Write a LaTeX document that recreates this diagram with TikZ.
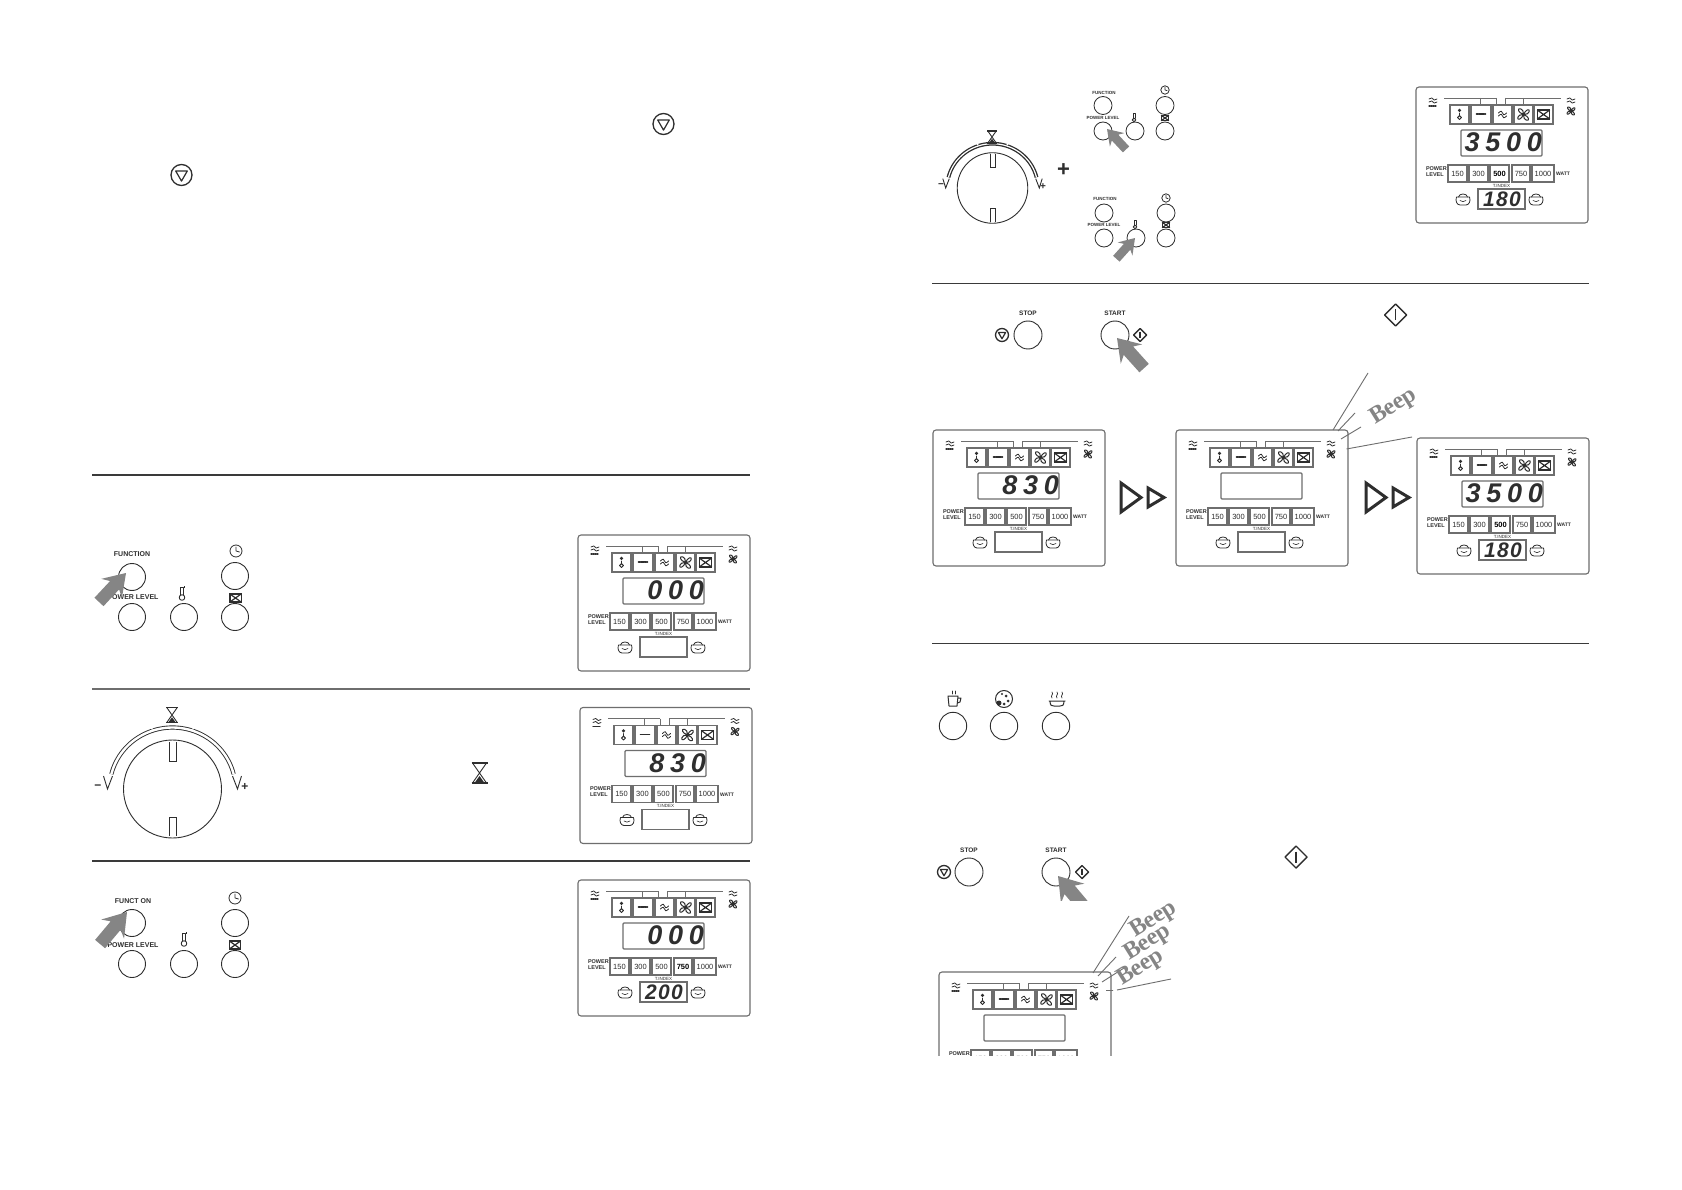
\documentclass[tikz,border=0pt]{standalone}
\usepackage{fontspec}
\setmainfont{Liberation Sans}
\newfontfamily\segmain[LetterSpace=21]{Liberation Sans Bold Italic}
\newfontfamily\seglow[LetterSpace=6]{Liberation Sans Bold Italic}
\newfontfamily\beepfont{Liberation Serif Bold}
\definecolor{ink}{HTML}{2E2E2E}
\definecolor{frame}{HTML}{6E6E6E}
\definecolor{hand}{HTML}{858585}
\definecolor{rule}{HTML}{3A3A3A}
\tikzset{
  btn/.style={draw=ink,line width=.9pt},
  ic/.style={draw=ink,line width=.8pt,line cap=round,line join=round},
  rulel/.style={draw=rule,line width=1.5pt},
  box/.style={draw=frame,line width=1.1pt,fill=white},
  thin/.style={draw=frame,line width=.9pt},
  lab/.style={inner sep=0pt,text=ink,font=\fontsize{7}{7}\selectfont\bfseries},
  beeplabel/.style={inner sep=0pt,text=hand,font=\fontsize{24}{24}\beepfont},
  beepline/.style={draw=frame,line width=.9pt},
}
% icons
\newcommand\stopicon[3]{\begin{scope}[shift={(#1,#2)},scale=#3]
  \draw[draw=ink,line width=1.3pt] (0,0) circle (1);
  \draw[draw=ink,line width=1.2pt,line join=round] (-.55,-.38) -- (.55,-.38) -- (0,.58) -- cycle;
\end{scope}}
\newcommand\starticon[3]{\begin{scope}[shift={(#1,#2)},scale=#3]
  \draw[draw=ink,line width=1.4pt,line join=round] (0,-1) -- (1,0) -- (0,1) -- (-1,0) -- cycle;
  \draw[draw=ink,line width=1.2pt] (0,-.5) -- (0,.5);
\end{scope}}
\newcommand\hourglass[3]{\begin{scope}[shift={(#1,#2)},scale=#3]
  \draw[draw=ink,line width=1.1pt] (-8,-10) -- (8,-10) (-8,10) -- (8,10);
  \draw[draw=ink,line width=.9pt] (-7,-10) -- (7,10) (7,-10) -- (-7,10);
  \fill[ink] (0,3) -- (5,10) -- (-5,10) -- cycle;
\end{scope}}
\newcommand\clockicon[2]{\begin{scope}[shift={(#1,#2)}]
  \draw[ic] (0,0) circle (6);
  \draw[ic] (0,-4) -- (0,0) -- (3.5,1);
\end{scope}}
\newcommand\thermoicon[2]{\begin{scope}[shift={(#1,#2)}]
  \draw[ic,line width=.9pt] (-1.6,2) -- (-1.6,-6) -- (1.6,-6) -- (1.6,2);
  \draw[ic,line width=.9pt] (0,4.5) circle (2.8);
  \fill[ink] (1.6,-7) rectangle (3.4,-5);
\end{scope}}
\newcommand\ovenicon[3]{\begin{scope}[shift={(#1,#2)},scale=#3]
  \draw[draw=ink,line width=1.2pt] (-7,-5) rectangle (7,5);
  \draw[draw=ink,line width=1.2pt] (-7,-5) -- (7,5) (-7,5) -- (7,-5);
\end{scope}}
\newcommand\wave[3]{\draw[ic,line width=.8pt] (#1-4,#2) .. controls (#1-2,#2-#3) and (#1,#2-#3) .. (#1,#2) .. controls (#1,#2+#3) and (#1+2,#2+#3) .. (#1+4,#2);}
\newcommand\fanicon[3]{\begin{scope}[shift={(#1,#2)},scale=#3]
  \draw[ic,line width=1pt] (0,0) .. controls (-6,-2) and (-7,-7) .. (-3,-6) .. controls (-1,-6) and (0,-3) .. (0,0)
     .. controls (2,-5) and (7,-7) .. (6,-3) .. controls (6,-1) and (3,0) .. (0,0)
     .. controls (6,2) and (7,7) .. (3,6) .. controls (1,6) and (0,3) .. (0,0)
     .. controls (-2,5) and (-7,7) .. (-6,3) .. controls (-6,1) and (-3,0) .. (0,0);
\end{scope}}
\newcommand\poticon[2]{\begin{scope}[shift={(#1,#2)}]
  \draw[ic,line width=.8pt] (-6.5,-2) -- (6.5,-2) .. controls (8,2) and (6,6) .. (3,6) -- (-3,6) .. controls (-6,6) and (-8,2) .. (-6.5,-2);
  \draw[ic,line width=.8pt] (-4.5,-2) .. controls (-4,-6) and (4,-6) .. (4.5,-2);
  \draw[ic,line width=.6pt] (-3,1.5) .. controls (-1,3) and (1,3) .. (3,1.5);
\end{scope}}
\newcommand\handarrow[4]{\begin{scope}[shift={(#1,#2)},rotate=#3,scale=#4]
  \fill[hand] (0,0) -- (-24,-16) -- (-19,-7) -- (-45,-7) -- (-45,7) -- (-19,7) -- (-24,16) -- cycle;
\end{scope}}
\newcommand\dbltri[2]{\begin{scope}[shift={(#1,#2)}]
  \draw[draw=ink,line width=3pt,line join=miter] (1,1) -- (21,15.5) -- (1,30) -- cycle;
  \draw[draw=ink,line width=3pt,line join=miter] (28,6) -- (44,15.5) -- (28,25) -- cycle;
\end{scope}}
% the LCD panel: x, y, main digits, lower digits, bold watt
\newcommand\lcdpanel[5]{\begin{scope}[shift={(#1,#2)}]
  \draw[thin,line width=1.1pt,rounded corners=3pt] (0,0) rectangle (172,136);
  \lcdbody{#3}{#4}{#5}
\end{scope}}
\newcommand\lcdbody[3]{%
  \draw[thin] (28,11) -- (80,11) (89,11) -- (145,11)
     (64,11) -- (64,17) (80,11) -- (80,17) (89,11) -- (89,17) (107,11) -- (107,17);
  \wave{17}{12}{1.4}\wave{17}{15}{1.4}
  \draw[ic,line width=1.2pt,dash pattern=on 1pt off 1pt] (13,19) -- (21,19);
  \wave{155}{12}{1.4}\wave{155}{15}{1.4}
  \fanicon{155}{24}{.65}
  \foreach \a/\b in {34/53,55/75,77/96,98/117,118/137}{\draw[box] (\a,18) rectangle (\b,37);}
  \begin{scope}[shift={(43.5,27)},scale=.8]
    \draw[ic,line width=1pt] (0,-1) -- (0,2); \draw[ic,line width=1pt] (0,4.5) circle (2.4);
    \fill[ink] (0,-4.5) circle (2.2);
  \end{scope}
  \draw[ic,line width=1.6pt,dash pattern=on 1.4pt off .8pt] (60.5,27) -- (69.5,27);
  \wave{86.5}{26}{2.4}\wave{86.5}{29}{2.4}
  \fanicon{107.5}{27.5}{.95}
  \ovenicon{127.5}{27.5}{.9}
  \draw[box,rounded corners=1pt] (45,43) rectangle (126,69);
  \node[anchor=east,inner sep=0pt,text=ink,font=\fontsize{27}{27}\segmain] at (126,55.5) {#1};
  \node[inner sep=0pt,align=left,anchor=east,text=ink,font=\fontsize{5.5}{6}\selectfont\bfseries] at (31,84.5) {POWER\\LEVEL};
  \foreach \a/\b/\w in {32/51/150,53/72/300,74/93/500,96/114/750,116/138/1000}{%
    \draw[box] (\a,78) rectangle (\b,95);
    \ifnum\w=#3\relax
      \node[inner sep=0pt,text=black,font=\fontsize{7.5}{7.5}\selectfont\bfseries] at ({(\a+\b)/2},86.5) {\w};
    \else
      \node[inner sep=0pt,text=ink,font=\fontsize{7.5}{7.5}\selectfont] at ({(\a+\b)/2},86.5) {\w};
    \fi}
  \node[inner sep=0pt,anchor=west,text=ink,font=\fontsize{5}{5}\selectfont\bfseries] at (140,87) {WATT};
  \node[inner sep=0pt,text=ink,font=\fontsize{4.5}{4.5}\selectfont] at (85.5,98.5) {T.INDEX};
  \draw[box] (62,102) rectangle (109,122);
  \node[inner sep=0pt,text=ink,font=\fontsize{21}{21}\seglow] at (86,112) {#2};
  \poticon{47}{112}\poticon{120}{112}
}
% control knob
\newcommand\knob[5]{\begin{scope}[shift={(#1,#2)},scale=#3]
  \draw[draw=ink,line width=.9pt] (0,0) circle (49);
  \draw[draw=ink,line width=.8pt,fill=white] (-3.5,-47) -- (-3.5,-28) -- (3.5,-28) -- (3.5,-47);
  \draw[draw=ink,line width=.8pt,fill=white] (-3.5,47) -- (-3.5,28) -- (3.5,28) -- (3.5,47);
  \draw[draw=ink,line width=#4pt] plot[domain=194:346,samples=50] ({63*cos(\x)},{61.5*sin(\x)});
  \draw[draw=white,line width=#5pt] plot[domain=194:346,samples=50] ({63*cos(\x)},{61.5*sin(\x)});
  \draw[draw=ink,line width=.9pt,fill=white] (-69,-13) -- (-65,0) -- (-60,-13);
  \draw[draw=ink,line width=.9pt,fill=white] (69,-13) -- (65,0) -- (60,-13);
  \draw[draw=white,line width=1.2pt] (-20,-59.5) -- (-22,-62) (20,-59.5) -- (22,-62);
\end{scope}}

\begin{document}
\begin{tikzpicture}[x=1pt,y=-1pt]
\useasboundingbox (0,0) rectangle (1682,1190);
\fill[white] (0,0) rectangle (1682,1190);

% rules
\draw[rulel] (92,475) -- (750,475);
\draw[rulel,draw=frame] (92,689) -- (750,689);
\draw[rulel] (92,861) -- (750,861);
\draw[rulel] (932,283.5) -- (1589,283.5);
\draw[rulel] (932,643.5) -- (1589,643.5);

% stop icons in the text
\stopicon{663.5}{124}{10.5}
\stopicon{181.5}{175}{10.5}

% panel 1 buttons
\node[lab] (f1) at (132,554) {FUNCTION};
\node[lab] (p1) at (133,597) {POWER LEVEL};
\foreach \p in {(132,577),(235,576),(132,617),(184,617),(235,617)}{\draw[btn] \p circle (13.5);}
\clockicon{236}{551}
\thermoicon{182}{593}
\ovenicon{235.5}{598}{.8}
\handarrow{126}{573}{47}{.88}
\lcdpanel{578}{535}{000}{}{0}

% knob row
\knob{172.5}{789}{1}{4.2}{2.4}
\hourglass{172}{715}{.75}
\node[lab,font=\fontsize{12}{12}\selectfont\bfseries] (m1) at (98,787) {−};
\node[lab,font=\fontsize{12}{12}\selectfont\bfseries] (pl1) at (245,787) {+};
\hourglass{479.5}{773}{1}
\lcdpanel{580}{707.5}{830}{}{0}

% third row
\node[lab] (f3) at (133,901) {FUNCT ON};
\node[lab] (p3) at (133,945) {POWER LEVEL};
\foreach \p in {(132,923),(235,923),(132,964),(184,964),(235,964)}{\draw[btn] \p circle (13.5);}
\clockicon{235}{898}
\thermoicon{184}{939}
\ovenicon{235}{945}{.8}
\handarrow{127}{912}{50}{.93}
\lcdpanel{578}{880}{000}{200}{750}

% right page, top
\knob{992.5}{188}{.72}{3.8}{1.2}
\hourglass{992}{137}{.6}
\node[lab,font=\fontsize{10}{10}\selectfont\bfseries] (m2) at (941,186) {−};
\node[lab,font=\fontsize{10}{10}\selectfont\bfseries] (pl2) at (1043,187) {+};
\node[lab,font=\fontsize{22}{22}\selectfont\bfseries] (plus) at (1063.5,170) {+};
\begin{scope}[font=\fontsize{4.5}{4.5}\selectfont\bfseries]
\node[inner sep=0pt,text=ink] (f4) at (1104,93) {FUNCTION};
\node[inner sep=0pt,text=ink] (p4) at (1103,118) {POWER LEVEL};
\node[inner sep=0pt,text=ink] (f5) at (1105,199) {FUNCTION};
\node[inner sep=0pt,text=ink] (p5) at (1104,225) {POWER LEVEL};
\end{scope}
\foreach \p in {(1103,105.5),(1165,105.5),(1103,131),(1135,131),(1165,131),(1104,213),(1166,213),(1104,238),(1136,238),(1166,238)}{\draw[btn,line width=.8pt] \p circle (9);}
\begin{scope}[shift={(1165,90)},scale=.7]\draw[ic] (0,0) circle (6);\draw[ic] (0,-4) -- (0,0) -- (3,1);\end{scope}
\begin{scope}[shift={(1166,198)},scale=.7]\draw[ic] (0,0) circle (6);\draw[ic] (0,-4) -- (0,0) -- (3,1);\end{scope}
\begin{scope}[shift={(1134,117)},scale=.65]\draw[ic,line width=.9pt] (-1.6,2) -- (-1.6,-6) -- (1.6,-6) -- (1.6,2);\draw[ic,line width=.9pt] (0,4.5) circle (2.8);\end{scope}
\begin{scope}[shift={(1135,224)},scale=.65]\draw[ic,line width=.9pt] (-1.6,2) -- (-1.6,-6) -- (1.6,-6) -- (1.6,2);\draw[ic,line width=.9pt] (0,4.5) circle (2.8);\end{scope}
\ovenicon{1165}{118}{.55}
\ovenicon{1166}{225}{.55}
\handarrow{1107}{129}{133}{.62}
\handarrow{1135}{238}{48}{.62}
\lcdpanel{1416}{87}{3500}{180}{500}

% stop / start
\node[lab,font=\fontsize{6.5}{6.5}\selectfont\bfseries] (st1) at (1028,313) {STOP};
\node[lab,font=\fontsize{6.5}{6.5}\selectfont\bfseries] (sr1) at (1115,313) {START};
\draw[btn] (1028,335) circle (14);
\draw[btn] (1115,335) circle (14);
\stopicon{1002}{335}{6.5}
\starticon{1140}{335}{6.5}
\handarrow{1117}{338}{132}{.9}
\starticon{1395.5}{315}{11}

\lcdpanel{933}{430}{830}{}{0}
\dbltri{1120}{482}
\lcdpanel{1176}{430}{}{}{0}
\dbltri{1365}{482}
\lcdpanel{1417}{438}{3500}{180}{500}
\draw[beepline] (1333,430) -- (1368,373) (1338,431) -- (1355,413) (1341,439) -- (1361,427) (1346.5,449) -- (1412,437);
\node[beeplabel,rotate=32] (b1) at (1394,407) {Beep};

% last section
\draw[btn] (953,726) circle (13.7);
\draw[btn] (1004,726) circle (13.7);
\draw[btn] (1056,726) circle (13.7);
% cup
\draw[ic,line width=1pt] (948,696) -- (958,696) -- (957,706) -- (949,706) -- cycle (958,698) -- (961,698) -- (960,702) -- (957.5,703);
\draw[ic,line width=.7pt] (952,694) -- (952,691) (955,694) -- (955,691);
% cookie
\draw[ic,line width=1pt] (1004,699) circle (8.5);
\fill[ink] (999,703) circle (2.5) (1006,696) circle (1.5) (1002,694) circle (1.2) (1008,701) circle (1.5) (1004,704) circle (1.5);
% bowl
\draw[ic,line width=1pt] (1049,701) -- (1065,701) (1050,701) .. controls (1050,706) and (1052,706) .. (1054,706) -- (1060,706) .. controls (1062,706) and (1064,706) .. (1064,701);
\draw[ic,line width=.7pt] (1052,698) .. controls (1050,695) and (1054,695) .. (1052,692) (1057,698) .. controls (1055,695) and (1059,695) .. (1057,692) (1062,698) .. controls (1060,695) and (1064,695) .. (1062,692);

\node[lab,font=\fontsize{6.5}{6.5}\selectfont\bfseries] (st2) at (969,850) {STOP};
\node[lab,font=\fontsize{6.5}{6.5}\selectfont\bfseries] (sr2) at (1056,850) {START};
\draw[btn] (969,872) circle (14);
\draw[btn] (1056,872) circle (14);
\stopicon{944}{872}{6.5}
\starticon{1082}{872}{6.5}
\begin{scope}
  \clip (1020,860) rectangle (1100,900);
  \handarrow{1058}{876}{130}{.95}
\end{scope}
\starticon{1296}{857}{11}

\begin{scope}
  \clip (930,960) rectangle (1120,1055);
  \begin{scope}[shift={(939,972)}]
    \draw[thin,line width=1.1pt,rounded corners=3pt] (0,0) rectangle (172,136);
    \lcdbody{}{}{0}
  \end{scope}
\end{scope}
\draw[beepline] (1093,973) -- (1129,916) (1098,976) -- (1116,957) (1102,982) -- (1124,968) (1117,990) -- (1171,979) (1106,990.5) -- (1113,990.5);
\node[beeplabel,rotate=32] (b2) at (1154,920) {Beep};
\node[beeplabel,rotate=32] (b3) at (1148,943) {Beep};
\node[beeplabel,rotate=32] (b4) at (1141,968) {Beep};
\end{tikzpicture}
\end{document}
